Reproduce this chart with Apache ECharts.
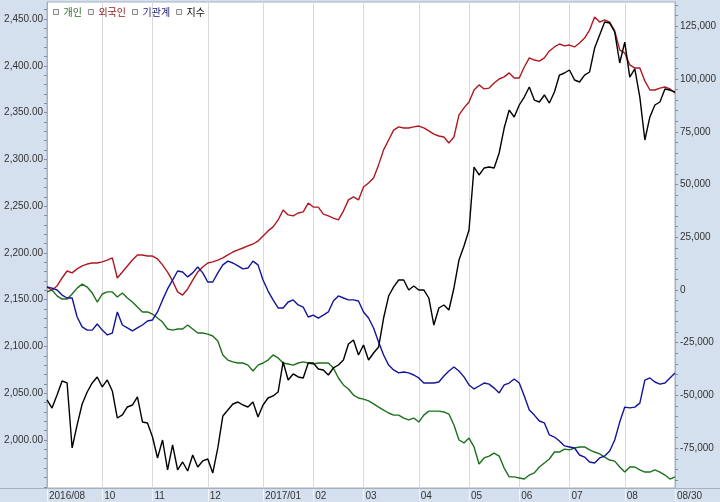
<!DOCTYPE html>
<html><head><meta charset="utf-8">
<script src="https://cdn.jsdelivr.net/npm/echarts@6/dist/echarts.min.js"></script>
<style>html,body{margin:0;padding:0;background:#d5e0ee;}#c{width:720px;height:502px;}</style>
</head><body><div id="c"></div>
<script>
const seriesNames = ['개인', '외국인', '기관계', '지수'];
const lineColors = ['#1c701c', '#b01820', '#14149a', '#000000'];
const legendTextColors = ['#2a6e2a', '#8b1a1a', '#1c1c7a', '#111111'];

// x-axis month boundaries (sample index) and their labels
const monthTickIdx = [0, 11, 21, 32, 43, 53, 63, 74, 84, 94, 104, 115, 125];
const monthLabels = ['2016/08', '10', '11', '12', '2017/01', '02', '03', '04', '05', '06', '07', '08', '08/30'];

// y-axis tick labels
const leftTicks = [2000, 2050, 2100, 2150, 2200, 2250, 2300, 2350, 2400, 2450];
const rightTicks = [-75000, -50000, -25000, 0, 25000, 50000, 75000, 100000, 125000];

// 개인 (right axis)
const individual = [
  -900, 0, -2800, -4300, -4300, -1900, 900, 2800, 1400, -1400,
  -5700, -1900, -900, -900, -3300, -1400, -3800, -5700, -8100, -10400,
  -10400, -11400, -13300, -15200, -18500, -19000, -18500, -18500, -16600, -18500,
  -20400, -20400, -20900, -21800, -24200, -30800, -33200, -34100, -34600, -34600,
  -35600, -38400, -35600, -34600, -33200, -30800, -32200, -34600, -35100, -35600,
  -34600, -34100, -34600, -35100, -34600, -34600, -34600, -37000, -41700, -45000,
  -46900, -49800, -51200, -51700, -52600, -54000, -55500, -56900, -58300, -59300,
  -59300, -60700, -61600, -60700, -62600, -59300, -57400, -57400, -57400, -57800,
  -58800, -64000, -71100, -72500, -70200, -74400, -82500, -79600, -78700, -77300,
  -78700, -84400, -88600, -88600, -89100, -89600, -87700, -86700, -83900, -82000,
  -80100, -76800, -76800, -75400, -75800, -74900, -74400, -74400, -75800, -76800,
  -77700, -79200, -80600, -81100, -83900, -86300, -83900, -83900, -85300, -86300,
  -86300, -85300, -86300, -87700, -89600, -88600
];
// 외국인 (right axis)
const foreign = [
  1400, 0, 1900, 5700, 9000, 8100, 10000, 11400, 12300, 12800,
  12800, 13300, 14200, 15200, 5700, 8500, 11400, 14200, 16600, 16600,
  16100, 16100, 14700, 11900, 8500, 4300, -900, -2400, 500, 4700,
  8500, 10900, 12800, 13300, 14200, 15200, 16600, 18000, 19000, 19900,
  20900, 21800, 23200, 25600, 28000, 29900, 33200, 37900, 35600, 35100,
  36500, 37000, 41200, 39300, 39300, 36000, 35100, 34100, 33200, 37400,
  42700, 44100, 42700, 48800, 50700, 53100, 59300, 66400, 71100, 75800,
  77300, 76800, 76800, 77300, 77700, 76800, 75400, 73900, 73000, 72500,
  69700, 72500, 83000, 86300, 89100, 94800, 97200, 95300, 95700, 98100,
  100000, 101000, 102900, 100500, 100500, 105700, 110000, 109000, 108500, 110000,
  113300, 115200, 116600, 115700, 116100, 115200, 117100, 119400, 123200, 129400,
  127000, 128000, 127000, 122800, 113800, 112300, 106700, 105200, 105200, 99100,
  94800, 94800, 95700, 96200, 95300, 93400
];
// 기관계 (right axis)
const institution = [
  1400, 900, 0, -2400, -3800, -3800, -12800, -17500, -19000, -19000,
  -16100, -19000, -21300, -20400, -10400, -16600, -18000, -19400, -18000, -16600,
  -14700, -14200, -10400, -4700, 500, 4700, 9000, 8500, 6200, 8100,
  10900, 8100, 3800, 3800, 8100, 11900, 13700, 12800, 11400, 10000,
  10400, 13700, 11900, 4700, -500, -4700, -8500, -8500, -5700, -4700,
  -7100, -8100, -12800, -11900, -13300, -11900, -10400, -5200, -2800, -3800,
  -4700, -4700, -5200, -10400, -13300, -18000, -24600, -30800, -35600, -37900,
  -39300, -38900, -39300, -40300, -41700, -44100, -44100, -44100, -43600, -40800,
  -38400, -36500, -38400, -41200, -45000, -46900, -45500, -44100, -44600, -46500,
  -48800, -45000, -44100, -42200, -44100, -50200, -56900, -59300, -62100, -63000,
  -68700, -69700, -71600, -73900, -74400, -74900, -78200, -79200, -81500, -82000,
  -79600, -78700, -76300, -71100, -62600, -55500, -55900, -55500, -53600, -42700,
  -41700, -43600, -44600, -44100, -41700, -39300
];
// 지수 (left axis)
const kospi = [
  2042.8, 2034.2, 2048.1, 2063.1, 2061.0, 1991.5, 2016.1, 2038.5, 2051.3, 2061.0,
  2067.4, 2056.7, 2064.2, 2052.4, 2023.5, 2026.8, 2035.3, 2037.4, 2046.0, 2019.3,
  2018.2, 2003.2, 1980.8, 2000.0, 1968.0, 1994.7, 1968.0, 1976.5, 1966.9, 1984.0,
  1971.2, 1977.6, 1979.7, 1964.8, 1991.5, 2025.7, 2032.1, 2038.5, 2040.6, 2037.4,
  2035.3, 2040.6, 2024.6, 2037.4, 2044.9, 2047.1, 2051.3, 2083.4, 2064.2, 2070.6,
  2067.4, 2066.3, 2082.3, 2082.3, 2075.9, 2074.9, 2069.5, 2077.0, 2080.2, 2085.5,
  2102.6, 2106.9, 2090.9, 2101.6, 2085.5, 2093.0, 2099.4, 2130.4, 2153.9, 2163.6,
  2171.0, 2171.0, 2160.4, 2164.6, 2160.4, 2160.4, 2151.8, 2122.9, 2141.1, 2144.3,
  2139.0, 2162.5, 2192.4, 2207.4, 2224.5, 2291.8, 2283.3, 2290.7, 2291.8, 2290.7,
  2306.8, 2333.5, 2352.7, 2345.3, 2358.1, 2366.6, 2377.3, 2363.4, 2361.3, 2368.8,
  2360.2, 2372.0, 2390.1, 2392.3, 2395.5, 2384.8, 2382.7, 2390.1, 2393.4, 2419.0,
  2432.9, 2446.8, 2445.7, 2436.1, 2403.0, 2425.4, 2388.0, 2396.6, 2366.6, 2320.7,
  2345.3, 2358.1, 2361.3, 2375.2, 2374.1, 2372.0
];

const categories = kospi.map((_, i) => String(i));
const isMonth = (idx) => monthTickIdx.indexOf(idx) >= 0;
const leftMinor = []; for (let v = 1950; v <= 2460; v += 10) leftMinor.push(v);
const rightMinor = []; for (let v = -90000; v <= 135000; v += 5000) rightMinor.push(v);

const axisFont = { fontFamily: '"Liberation Sans Narrow", "Liberation Sans", sans-serif', fontSize: 10, color: '#333' };
const frameColor = '#a6b0be';

const chart = echarts.init(document.getElementById('c'), null, { renderer: 'canvas' });
const allSeries = [individual, foreign, institution, kospi];
chart.setOption({
  animation: false,
  backgroundColor: '#d5e0ee',
  grid: { left: 47, right: 45, top: 2, bottom: 14, show: true, backgroundColor: '#ffffff', borderColor: frameColor, borderWidth: 1 },
  legend: {
    left: 48, top: 2, itemWidth: 5, itemHeight: 5, itemGap: 6, icon: 'rect',
    textStyle: { fontSize: 10, fontFamily: '"Noto Sans CJK KR", sans-serif' },
    data: seriesNames.map((n, i) => ({ name: n, itemStyle: { color: '#f2f2f2', borderColor: '#888', borderWidth: 1 }, textStyle: { color: legendTextColors[i] } }))
  },
  graphic: [{ type: 'line', shape: { x1: 0, y1: 488.5, x2: 720, y2: 488.5 }, style: { stroke: frameColor, lineWidth: 1 }, z: 100 }],
  xAxis: {
    type: 'category', data: categories, boundaryGap: false,
    axisLine: { show: true, onZero: false, lineStyle: { color: frameColor } },
    axisTick: { show: true, interval: (i) => isMonth(i), length: 13, lineStyle: { color: '#f3f6fb', width: 1 } },
    axisLabel: { ...axisFont, interval: (i) => isMonth(i), align: 'left', margin: 3, padding: [0, 0, 0, 2],
      formatter: (v, i) => { const k = monthTickIdx.indexOf(Number(v)); return k >= 0 ? monthLabels[k] : ''; } },
    splitLine: { show: true, interval: (i) => isMonth(i), lineStyle: { color: '#dadada', width: 1 } }
  },
  yAxis: [
    {
      type: 'value', position: 'left', min: 1948.7, max: 2468.2,
      axisLine: { show: true, lineStyle: { color: frameColor } },
      axisTick: { show: true, length: 3, customValues: leftMinor, lineStyle: { color: '#8090a8' } },
      axisLabel: { ...axisFont, margin: 4, customValues: leftTicks,
        formatter: (v) => v.toLocaleString('en-US', { minimumFractionDigits: 2, maximumFractionDigits: 2 }) },
      splitLine: { show: false }
    },
    {
      type: 'value', position: 'right', min: -93850, max: 136500,
      axisLine: { show: true, lineStyle: { color: frameColor } },
      axisTick: { show: true, length: 3, customValues: rightMinor, lineStyle: { color: '#8090a8' } },
      axisLabel: { ...axisFont, margin: 5, customValues: rightTicks,
        formatter: (v) => v.toLocaleString('en-US') },
      splitLine: { show: false }
    }
  ],
  series: seriesNames.map((n, i) => ({
    name: n, type: 'line', yAxisIndex: i === 3 ? 0 : 1, data: allSeries[i],
    showSymbol: false, symbol: 'none', lineStyle: { color: lineColors[i], width: 1.4 },
    itemStyle: { color: lineColors[i] }, z: 2 + i
  }))
});
</script></body></html>
